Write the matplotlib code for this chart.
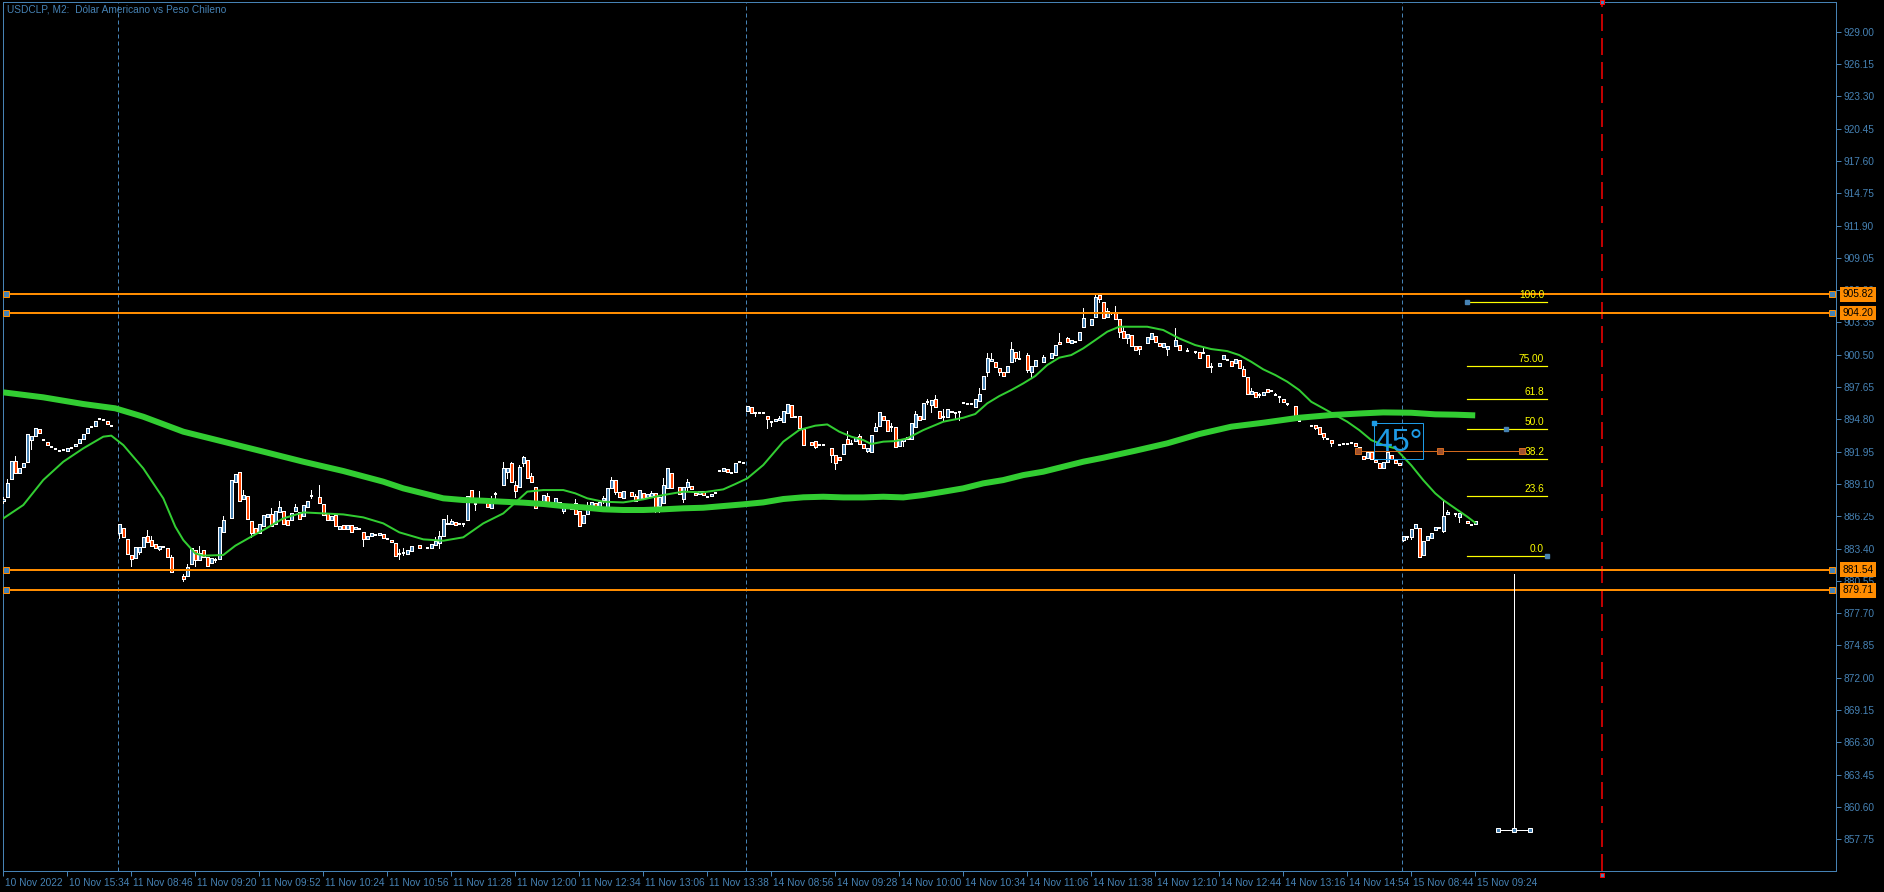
import numpy as np
import matplotlib
matplotlib.use("Agg")
import matplotlib.pyplot as plt
from matplotlib.patches import Rectangle
import matplotlib.transforms as mtransforms

plt.rcParams['font.family'] = ['Liberation Sans', 'DejaVu Sans']
plt.rcParams['lines.scale_dashes'] = False

nan = np.nan
# ---------------- data ----------------
opens = [
 887.6, 887.92, 889.56, 891.15, 890.03, 890.56, 891.0, 892.98, 893.36, 893.92,
 892.97, 892.77, 892.39, 892.21, 892.03, 892.09, 892.03, 892.3, 892.42, 892.68,
 893.09, 893.56, 894.15, 894.24, 894.83, 894.77, 894.62, 894.24, nan, 884.8,
 885.18, 884.21, 882.83, 882.59, 883.09, 883.56, 884.53, 884.15, 883.8, 883.39,
 883.56, 883.42, 882.62, nan, nan, 880.98, 880.98, 882.06, 883.24, 882.39,
 883.24, 882.62, 882.09, 882.39, 882.45, 884.89, nan, 886.06, 889.3, 890.12,
 887.8, 888.0, 885.8, 885.21, 884.8, 885.42, 886.21, 886.42, 885.56, 886.6,
 886.68, 885.89, 885.89, 886.74, 886.62, 886.3, 887.09, 888.06, nan, 887.95,
 887.3, 886.5, 885.92, 886.39, 885.15, 885.48, 885.15, 885.5, 885.09, 885.12,
 884.83, 884.27, 884.53, 884.62, 884.56, 884.68, 884.27, 884.15, 883.89, 882.92,
 883.0, 882.92, 883.21, nan, 883.71, nan, 883.48, 883.48, 883.74, 883.92,
 884.5, 885.53, 885.6, 885.71, 885.56, 885.56, 885.92, 888.56, 887.3, 887.53,
 nan, 887.39, 886.95, 888.21, nan, 888.98, 890.15, 890.92, 888.98, 888.8,
 890.98, 891.18, 889.77, 888.8, 887.45, 887.5, 888.06, 887.36, 887.39, 887.47,
 886.74, nan, 886.92, 887.42, 886.74, 885.68, 886.48, 887.09, 887.42, 887.0,
 887.65, 887.06, 888.77, 889.45, 888.39, 887.89, nan, 888.36, 888.0, 887.74,
 888.27, 887.98, 888.06, 888.27, 887.15, 887.39, 888.77, 890.03, nan, 888.8,
 887.74, 888.86, 888.89, 888.27, 888.18, 888.48, 887.98, 888.03, 888.3, 890.21,
 890.21, 890.42, 890.09, 890.12, 891.0, 890.92, 895.56, 895.86, 895.33, 895.39,
 895.39, 895.09, 894.6, 894.62, 894.77, 894.6, 895.39, 896.06, 895.03, 895.09,
 893.94, nan, 892.77, 892.88, 892.5, 892.5, nan, 892.24, 891.65, 891.5,
 891.71, 893.03, 892.65, 892.91, 893.33, 892.62, 892.03, 891.94, 893.8, 894.24,
 895.06, 894.71, 894.15, 894.12, 892.47, 892.91, 893.21, 893.03, 894.09, 895.06,
 894.8, 896.35, 896.09, 896.59, 895.53, 895.03, 895.03, 895.56, 895.33, 895.47,
 896.21, 896.18, 896.18, 895.91, 896.44, 897.5, 899.0, 899.97, 899.85, 899.33,
 898.94, 898.97, 899.82, 900.71, 900.12, nan, 900.47, 898.97, 899.53, nan,
 899.82, nan, 900.24, 900.5, 901.62, nan, 901.94, 901.5, 901.65, 901.79,
 902.97, nan, 903.15, 903.85, 905.74, 905.12, 903.85, 904.21, 904.27, 903.62,
 902.56, 902.0, 902.21, 901.24, 901.24, nan, 901.56, 901.91, 902.15, 901.5,
 901.21, 901.0, nan, 901.3, 901.35, nan, 900.82, nan, 900.77, 900.71,
 900.65, 900.44, 899.41, nan, 899.53, 900.12, 900.03, 899.91, 899.79, 900.03,
 899.21, 898.5, 897.0, 897.24, 896.97, 896.91, 897.44, 897.3, 896.97, 896.8,
 896.56, 896.18, nan, 895.97, 894.65, nan, nan, 894.21, 894.27, 894.12,
 893.59, 893.06, 892.94, nan, 892.56, 892.59, 892.65, 892.68, 892.68, 892.32,
 891.53, 891.41, 891.88, 891.18, 890.94, 890.53, 891.06, 891.65, 891.21, 890.91,
 884.18, 884.38, 884.38, 885.18, 885.18, 882.8, 884.12, 884.3, 885.0, 885.24,
 884.97, 886.41, nan, 886.47, 886.21, nan, 885.82, 885.47, 885.53]

closes = [
 887.75, 889.21, 891.09, 890.09, 890.48, 890.92, 893.48, 893.33, 894.0, 893.56,
 892.97, 892.5, 892.39, 892.21, 892.03, 892.09, 892.24, 892.3, 892.59, 893.03,
 893.5, 894.0, 894.15, 894.62, 894.83, 894.77, 894.42, 894.24, nan, 885.53,
 884.45, 882.92, 882.48, 883.56, 883.5, 884.39, 884.0, 883.65, 883.48, 883.62,
 883.56, 882.68, 881.36, nan, nan, 880.68, 881.74, 883.42, 882.39, 882.98,
 882.68, 881.86, 882.53, 882.39, 885.3, 885.92, nan, 889.45, 890.0, 887.56,
 888.09, 885.98, 884.74, 884.8, 885.56, 886.36, 886.45, 885.42, 886.68, 887.06,
 885.6, 885.45, 886.5, 887.06, 885.98, 887.21, 887.56, 888.06, nan, 887.45,
 886.36, 885.92, 886.27, 885.42, 885.42, 885.09, 885.5, 884.86, 885.3, 885.12,
 884.21, 884.53, 884.77, 884.62, 884.77, 884.33, 884.27, 883.95, 882.77, 882.92,
 883.0, 883.24, 883.62, nan, 883.48, nan, 883.48, 883.8, 884.06, 884.5,
 885.98, 885.68, 885.83, 885.5, 885.56, 885.56, 888.03, 887.47, 887.3, 887.53,
 nan, 887.03, 887.47, 888.21, nan, 890.48, 890.48, 889.24, 888.5, 890.56,
 891.45, 889.65, 889.3, 887.0, 887.45, 888.1, 887.33, 887.36, 887.83, 887.03,
 887.03, nan, 887.33, 886.48, 885.42, 886.36, 887.24, 887.47, 887.09, 887.5,
 887.83, 888.74, 889.45, 888.42, 887.98, 888.48, nan, 888.06, 887.59, 888.53,
 887.89, 888.18, 888.3, 887.09, 887.92, 888.98, 890.48, 888.77, nan, 888.18,
 888.8, 889.24, 888.62, 888.1, 888.45, 888.12, 887.98, 888.21, 888.3, 890.21,
 890.48, 890.18, 890.09, 890.92, 891.0, 890.92, 895.95, 895.33, 895.33, 895.39,
 895.39, 894.8, 894.6, 894.83, 894.95, 895.53, 896.15, 894.98, 895.03, 894.0,
 892.56, nan, 892.56, 892.38, 892.5, 892.5, nan, 891.65, 890.97, 891.21,
 892.62, 892.65, 892.65, 893.21, 892.65, 892.24, 892.27, 893.38, 894.12, 895.44,
 894.74, 893.8, 894.15, 892.38, 893.03, 893.09, 893.03, 894.44, 895.24, 894.71,
 896.21, 896.35, 896.47, 895.85, 894.94, 895.03, 895.68, 895.41, 895.33, 895.47,
 896.21, 896.18, 896.18, 896.59, 897.03, 898.59, 900.21, 900.15, 899.44, 899.0,
 898.65, 899.47, 900.97, 900.24, 900.12, nan, 899.15, 899.47, 900.0, nan,
 900.3, nan, 900.68, 901.35, 901.41, nan, 901.62, 901.77, 901.65, 902.47,
 903.71, nan, 903.62, 905.56, 905.44, 903.76, 904.35, 904.21, 903.65, 902.47,
 902.0, 902.3, 901.3, 900.91, 901.03, nan, 902.03, 902.38, 901.65, 901.3,
 901.53, 901.27, nan, 901.79, 900.94, nan, 900.82, nan, 900.77, 900.24,
 900.65, 899.44, 899.41, nan, 899.79, 900.47, 900.03, 899.53, 900.09, 899.35,
 898.65, 897.0, 897.27, 896.74, 896.97, 897.21, 897.24, 897.3, 896.97, 896.8,
 896.3, 896.18, nan, 894.97, 894.65, nan, nan, 894.21, 894.06, 893.53,
 893.21, 893.06, 892.74, nan, 892.56, 892.59, 892.65, 892.68, 892.41, 892.0,
 891.27, 891.94, 891.27, 891.0, 890.47, 891.03, 891.94, 891.27, 890.97, 890.74,
 884.47, 884.38, 885.09, 885.53, 882.68, 884.03, 884.5, 884.74, 885.3, 885.24,
 886.27, 886.59, nan, 886.47, 886.5, nan, 885.62, 885.47, 885.79]

wick_high = {0: 887.95, 1: 889.5, 3: 891.56, 36: 885.03, 37: 884.5, 42: 882.83, 45: 881.12,
             46: 882.03, 49: 883.62, 53: 882.6, 55: 886.27, 60: 888.56, 67: 887.0, 69: 887.6,
             73: 887.3, 77: 888.56, 79: 889.0, 99: 883.36, 100: 883.42, 108: 884.4, 109: 884.95,
             111: 886.36, 112: 885.98, 119: 888.45, 122: 888.03, 123: 888.39, 125: 891.03,
             127: 891.06, 128: 889.36, 129: 890.77, 130: 891.56, 132: 890.03, 136: 888.27,
             143: 887.77, 146: 887.53, 150: 888.03, 152: 889.68, 158: 888.21, 162: 888.48,
             165: 889.59, 171: 889.53, 194: 895.1, 211: 893.77, 212: 892.97, 214: 893.47,
             218: 894.44, 222: 894.5, 228: 895.53, 231: 896.62, 233: 896.94, 235: 895.68,
             244: 897.59, 246: 900.65, 247: 900.62, 252: 901.62, 254: 900.82, 256: 900.65,
             260: 900.5, 264: 902.41, 266: 902.03, 270: 904.62, 273: 905.77, 274: 905.9,
             276: 904.59, 278: 904.79, 280: 902.97, 293: 902.82, 296: 901.06, 300: 901.06,
             302: 899.79, 310: 899.5, 312: 897.53, 314: 897.15, 318: 897.09, 324: 895.09,
             351: 884.5, 360: 887.62, 361: 886.79}
wick_low = {0: 887.4, 7: 892.18, 29: 884.3, 32: 881.89, 34: 882.95, 39: 883.27, 45: 880.56,
            48: 881.89, 53: 882.2, 62: 884.45, 77: 887.83, 90: 883.65, 99: 882.45, 100: 882.83,
            109: 883.48, 115: 885.4, 118: 886.8, 123: 887.74, 126: 889.65, 128: 887.98,
            130: 890.68, 134: 887.25, 136: 887.15, 140: 886.56, 150: 887.39, 153: 888.18,
            163: 886.65, 164: 886.65, 170: 887.5, 171: 888.56, 188: 895.1, 191: 894.0,
            192: 894.2, 203: 892.3, 207: 891.06, 208: 890.44, 216: 891.88, 222: 893.8,
            225: 892.47, 231: 896.15, 232: 895.44, 235: 894.74, 238: 894.94, 239: 894.71,
            246: 898.62, 249: 898.74, 253: 899.94, 256: 899.0, 257: 898.5, 274: 905.18,
            277: 904.06, 279: 902.06, 281: 901.56, 284: 900.59, 291: 900.5, 298: 900.62,
            302: 899.0, 314: 896.8, 319: 896.35, 321: 896.03, 328: 893.94, 330: 893.03,
            332: 892.47, 350: 884.09, 351: 884.27, 352: 884.24, 360: 884.82, 363: 886.29,
            364: 885.76}

ma_fast_idx = [0, 5, 10, 15, 20, 25, 27, 30, 35, 40, 43, 45, 48, 50, 55, 58, 62, 65, 70, 75,
               80, 85, 90, 95, 99, 105, 110, 115, 120, 125, 128, 131, 135, 140, 143, 146,
               150, 155, 160, 165, 170, 175, 180, 183, 186, 190, 195, 199, 203, 206, 209,
               212, 215, 217, 220, 223, 226, 230, 235, 240, 243, 246, 249, 252, 255, 258,
               261, 264, 267, 270, 273, 276, 279, 282, 286, 290, 294, 298, 302, 306, 309,
               312, 315, 318, 321, 324, 327, 330, 333, 336, 339, 342, 345, 348, 352, 355,
               358, 360, 363, 366, 368]
ma_fast_val = [886.06, 887.24, 889.45, 891.06, 892.24, 893.27, 893.36, 892.53, 890.47, 887.83,
               885.33, 884.15, 882.97, 882.77, 882.83, 883.65, 884.45, 885.03, 886.06, 886.59,
               886.5, 886.41, 886.15, 885.62, 884.83, 884.21, 884.09, 884.39, 885.62, 886.5,
               887.45, 888.42, 888.56, 888.56, 888.27, 887.83, 887.53, 887.47, 887.74, 888.12,
               888.42, 888.36, 888.62, 889.09, 889.59, 890.77, 892.83, 893.86, 894.24, 894.35,
               893.71, 893.27, 892.97, 892.62, 892.83, 892.88, 893.12, 893.85, 894.59, 894.94,
               895.27, 896.21, 896.85, 897.38, 897.97, 898.62, 899.59, 900.24, 900.47, 901.06,
               901.79, 902.53, 902.97, 902.97, 902.97, 902.68, 901.94, 901.35, 901.0, 900.82,
               900.47, 899.88, 899.21, 898.71, 898.12, 897.38, 896.35, 895.77, 895.18, 894.59,
               893.85, 892.97, 892.53, 892.24, 890.75, 889.44, 888.27, 887.68, 886.94, 886.21,
               885.68]

ma_slow_idx = [0, 10, 20, 28, 35, 45, 55, 65, 75, 85, 95, 100, 105, 110, 115, 120, 125, 130,
               135, 140, 145, 150, 155, 160, 165, 170, 175, 180, 185, 190, 195, 200, 205, 210,
               215, 220, 225, 230, 235, 240, 245, 250, 255, 260, 265, 270, 275, 283, 291, 299,
               307, 315, 324, 332, 340, 345, 352, 358, 363, 368]
ma_slow_val = [897.18, 896.74, 896.15, 895.77, 895.03, 893.71, 892.83, 891.95, 891.06, 890.24,
               889.3, 888.71, 888.27, 887.83, 887.68, 887.62, 887.53, 887.45, 887.33, 887.15,
               887.03, 886.86, 886.8, 886.8, 886.86, 886.95, 887.0, 887.15, 887.3, 887.47,
               887.77, 887.92, 887.97, 887.91, 887.91, 887.97, 887.91, 888.12, 888.41, 888.71,
               889.15, 889.44, 889.88, 890.18, 890.62, 891.06, 891.41, 892.03, 892.68, 893.5,
               894.15, 894.5, 894.94, 895.18, 895.33, 895.41, 895.38, 895.24, 895.21, 895.15]

price_ticks = [929.00, 926.15, 923.30, 920.45, 917.60, 914.75, 911.90, 909.05, 906.20, 903.35,
               900.50, 897.65, 894.80, 891.95, 889.10, 886.25, 883.40, 880.55, 877.70, 874.85,
               872.00, 869.15, 866.30, 863.45, 860.60, 857.75]
time_labels = ["10 Nov 2022", "10 Nov 15:34", "11 Nov 08:46", "11 Nov 09:20", "11 Nov 09:52",
               "11 Nov 10:24", "11 Nov 10:56", "11 Nov 11:28", "11 Nov 12:00", "11 Nov 12:34",
               "11 Nov 13:06", "11 Nov 13:38", "14 Nov 08:56", "14 Nov 09:28", "14 Nov 10:00",
               "14 Nov 10:34", "14 Nov 11:06", "14 Nov 11:38", "14 Nov 12:10", "14 Nov 12:44",
               "14 Nov 13:16", "14 Nov 14:54", "15 Nov 08:44", "15 Nov 09:24"]
level_lines = [905.82, 904.20, 881.54, 879.71]
fib_pcts = [0.0, 23.6, 38.2, 50.0, 61.8, 75.0, 100.0]
fib_texts = ["0.0", "23.6", "38.2", "50.0", "61.8", "75.00", "100.0"]
fib_low, fib_high = 882.71, 905.12
title = "USDCLP, M2:  Dólar Americano vs Peso Chileno"

# ---------------- styling ----------------
BG = "black"
AX = "#4682B4"
BULL = "#4682B4"
BEAR = "#FF4500"
MA = "#32CD32"
ORANGE = "#FF8C00"
YEL = "#FFFF00"
CYAN = "#1E9BE6"
PX = 0.72  # points per pixel at dpi 100
FS = 7.3

W, H = 1884, 892
fig = plt.figure(figsize=(W / 100, H / 100), dpi=100, facecolor=BG)
left_px, right_px, top_px, bot_px = 3, 1836, 2, 871
ax = fig.add_axes([left_px / W, (H - bot_px) / H, (right_px - left_px) / W, (bot_px - top_px) / H])
ax.set_facecolor(BG)
ax.set_xlim(-0.075, 458.2)
ax.set_ylim(854.95, 931.62)
for s in ax.spines.values():
    s.set_color(AX)
    s.set_linewidth(1.0 * PX)

# day separators
for xs in [28.75, 185.75, 349.75]:
    ax.axvline(xs, color=AX, lw=1 * PX, ls=(0, (4 * PX, 3 * PX)), zorder=1)
# red vertical dashed
ax.axvline(399.8, color="#FF0000", lw=1.5 * PX, ls=(0, (17 * PX, 7 * PX)), zorder=1)

# candles
bw = 0.75
for i, (o, c) in enumerate(zip(opens, closes)):
    if np.isnan(o):
        continue
    hi, lo = max(o, c), min(o, c)
    wh = wick_high.get(i, hi)
    wl = wick_low.get(i, lo)
    if wh > hi or wl < lo:
        ax.vlines(i, wl, wh, color="white", lw=1 * PX, zorder=3, antialiased=False)
    if hi - lo < 0.06:
        ax.hlines((hi + lo) / 2, i - bw / 2, i + bw / 2, color="white", lw=1.6 * PX,
                  zorder=4, antialiased=False)
    else:
        ax.add_patch(Rectangle((i - bw / 2, lo), bw, hi - lo,
                               facecolor=BULL if c > o else BEAR, edgecolor="white",
                               lw=1 * PX, zorder=4, antialiased=False))

# moving averages
ax.plot(ma_slow_idx, ma_slow_val, color=MA, lw=6 * PX, zorder=5, solid_capstyle="butt")
ax.plot(ma_fast_idx, ma_fast_val, color=MA, lw=2 * PX, zorder=6)

# horizontal levels
blend = mtransforms.blended_transform_factory(ax.transAxes, ax.transData)
for lv in level_lines:
    ax.axhline(lv, color=ORANGE, lw=2 * PX, zorder=7)
    ax.plot([0.75, 457.25], [lv, lv], ls="none", marker="s", ms=6 * PX, mfc=AX,
            mec=ORANGE, mew=1 * PX, zorder=8, clip_on=False)
    ax.text(1.0035, lv, f"{lv:.2f}", transform=blend, ha="left", va="center",
            color="black", fontsize=FS, zorder=20, clip_on=False,
            bbox=dict(boxstyle="square,pad=0.22", fc=ORANGE, ec="none"))

# partially hidden price label area (black box on the price scale)
ax.add_patch(Rectangle((1.001, 886.55), 0.025, 0.95, transform=blend, fc=BG, ec="none",
                       zorder=19, clip_on=False))

# fibonacci
fx0, fx1 = 365.9, 385.9
for pct, txt in zip(fib_pcts, fib_texts):
    py = fib_low + (fib_high - fib_low) * pct / 100.0
    ax.plot([fx0, fx1], [py, py], color=YEL, lw=1.2 * PX, zorder=7)
    ax.annotate(txt, (385.2, py), xytext=(0, 2), textcoords="offset pixels",
                ha="right", va="bottom", color=YEL, fontsize=FS, zorder=8)
ax.plot([fx0, 375.6, fx1], [fib_high, fib_low + (fib_high - fib_low) * 0.5, fib_low],
        ls="none", marker="s", ms=5 * PX, mfc=AX, mec=AX, zorder=9)

# angle trendline + 45 box
ax.plot([338.75, 379.75], [892.0, 892.0], color="#D2691E", lw=1 * PX, zorder=7)
ax.plot([338.75, 359.25, 379.75], [892.0, 892.0, 892.0], ls="none", marker="s",
        ms=6 * PX, mfc="#A0522D", mec="#D2691E", mew=1 * PX, zorder=8)
ax.add_patch(Rectangle((342.75, 891.28), 12.1, 3.17, fill=False, ec=CYAN, lw=1 * PX, zorder=8))
ax.text(348.8, 892.75, "45°", ha="center", va="center", color=CYAN, fontsize=23, zorder=8)
ax.plot([342.75], [894.45], ls="none", marker="s", ms=5 * PX, mfc=CYAN, mec=CYAN, zorder=9)

# white vertical tool
ax.plot([377.75, 377.75], [881.16, 858.57], color="white", lw=1 * PX, zorder=7)
ax.plot([373.7, 381.7], [858.57, 858.57], color="white", lw=1 * PX, zorder=7)
ax.plot([373.7, 377.75, 381.7], [858.57] * 3, ls="none", marker="s", ms=5 * PX,
        mfc=AX, mec="white", mew=1 * PX, zorder=8)

# red markers at time line ends
ax.plot([399.8, 399.8], [854.64, 931.62], ls="none", marker="s", ms=5 * PX, mfc=AX,
        mec="#FF0000", mew=1 * PX, zorder=10, clip_on=False)

# axes ticks
ax.yaxis.tick_right()
ax.set_yticks(price_ticks)
ax.set_yticklabels([f"{v:.2f}" for v in price_ticks])
ax.tick_params(axis="y", colors=AX, length=5 * PX, width=1 * PX, pad=1.5, labelsize=FS)
ax.set_xticks(list(range(0, 369, 16)))
ax.set_xticklabels(time_labels)
ax.tick_params(axis="x", colors=AX, length=5 * PX, width=1 * PX, pad=1.5, labelsize=FS)
off = mtransforms.ScaledTranslation(2 / 100, 0, fig.dpi_scale_trans)
for lab in ax.get_xticklabels():
    lab.set_horizontalalignment("left")
    lab.set_transform(lab.get_transform() + off)

fig.text(7 / W, 1 - 9 / H, title, ha="left", va="center", color=AX, fontsize=FS)

fig.savefig("out.png", dpi=100, facecolor=BG)
